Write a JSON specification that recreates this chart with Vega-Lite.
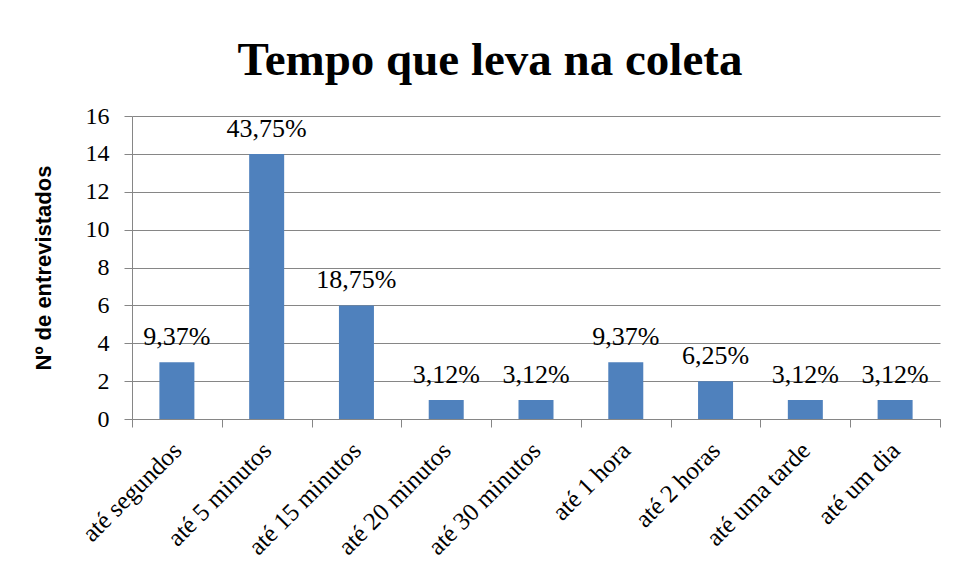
{
  "$schema": "https://vega.github.io/schema/vega-lite/v6.json",
  "width": 808,
  "height": 303,
  "autosize": "none",
  "padding": {"left": 132, "top": 116, "right": 17, "bottom": 159},
  "background": "white",
  "config": {
    "view": {"stroke": null},
    "text": {"font": "Liberation Serif", "fontSize": 26}
  },
  "title": {
    "text": "Tempo que leva na coleta",
    "font": "Liberation Serif",
    "fontSize": 47,
    "fontWeight": "bold",
    "color": "black",
    "anchor": "middle",
    "frame": "group",
    "baseline": "alphabetic",
    "dx": -46,
    "dy": 48,
    "offset": 30
  },
  "data": {
    "values": [
      {"cat": "até segundos", "n": 3, "pct": "9,37%"},
      {"cat": "até 5 minutos", "n": 14, "pct": "43,75%"},
      {"cat": "até 15 minutos", "n": 6, "pct": "18,75%"},
      {"cat": "até 20 minutos", "n": 1, "pct": "3,12%"},
      {"cat": "até 30 minutos", "n": 1, "pct": "3,12%"},
      {"cat": "até 1 hora", "n": 3, "pct": "9,37%"},
      {"cat": "até 2 horas", "n": 2, "pct": "6,25%"},
      {"cat": "até uma tarde", "n": 1, "pct": "3,12%"},
      {"cat": "até um dia", "n": 1, "pct": "3,12%"}
    ]
  },
  "encoding": {
    "x": {
      "field": "cat",
      "type": "nominal",
      "sort": null,
      "scale": {"paddingInner": 0, "paddingOuter": 0},
      "axis": {
        "title": null,
        "tickBand": "extent",
        "labelAngle": -45,
        "labelAlign": "right",
        "labelBaseline": "middle",
        "labelPadding": 19,
        "labelFont": "Liberation Serif",
        "labelFontSize": 25,
        "labelColor": "black",
        "domainColor": "#868686",
        "tickColor": "#868686",
        "tickSize": 8,
        "grid": false
      }
    },
    "y": {
      "field": "n",
      "type": "quantitative",
      "scale": {"domain": [0, 16], "nice": false},
      "axis": {
        "values": [0, 2, 4, 6, 8, 10, 12, 14, 16],
        "title": "Nº de entrevistados",
        "titleFont": "Liberation Sans",
        "titleFontSize": 22,
        "titleFontWeight": "bold",
        "titleColor": "black",
        "titlePadding": 30,
        "labelFont": "Liberation Serif",
        "labelFontSize": 24,
        "labelColor": "black",
        "labelPadding": 15,
        "domainColor": "#868686",
        "tickColor": "#868686",
        "tickSize": 8,
        "gridColor": "#868686",
        "gridOpacity": 1
      }
    }
  },
  "layer": [
    {"mark": {"type": "bar", "size": 35, "color": "#4F81BD"}},
    {
      "mark": {
        "type": "text",
        "font": "Liberation Serif",
        "fontSize": 26,
        "baseline": "alphabetic",
        "dy": -17,
        "color": "black"
      },
      "encoding": {"text": {"field": "pct"}}
    }
  ]
}
